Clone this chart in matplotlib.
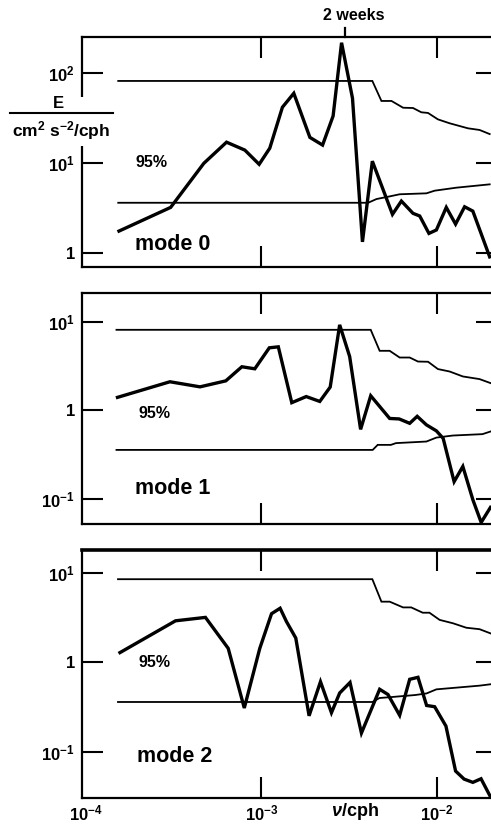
import matplotlib
matplotlib.use("Agg")
import matplotlib.pyplot as plt
from matplotlib.patches import Rectangle
from matplotlib.lines import Line2D
from matplotlib.ticker import FixedLocator, FixedFormatter, NullLocator

plt.rcParams['font.family'] = ['Liberation Sans', 'DejaVu Sans']
plt.rcParams['font.weight'] = 'bold'
plt.rcParams['mathtext.fontset'] = 'custom'
plt.rcParams['mathtext.rm'] = 'Liberation Sans:bold'
plt.rcParams['mathtext.it'] = 'Liberation Sans:italic:bold'
plt.rcParams['mathtext.bf'] = 'Liberation Sans:bold'

# spectra of the three vertical modes (cm^2 s^-2 / cph)
mode0_freq = [1.55e-4, 3.05e-4, 4.71e-4, 6.34e-4, 8.06e-4, 9.72e-4, 1.117e-3, 1.318e-3,
              1.53e-3, 1.889e-3, 2.23e-3, 2.56e-3, 2.86e-3, 3.30e-3, 3.76e-3, 4.28e-3,
              5.57e-3, 6.26e-3, 7.29e-3, 7.96e-3, 8.98e-3, 9.90e-3, 1.127e-2, 1.273e-2,
              1.433e-2, 1.596e-2, 1.99e-2]
mode0_E = [1.74, 3.19, 9.85, 16.9, 13.8, 9.6, 14.5, 41.3, 59, 19.1, 15.7, 33, 215, 52,
           1.32, 10.4, 2.67, 3.75, 2.74, 2.56, 1.64, 1.79, 3.19, 2.08, 3.24, 2.90, 0.90]

mode1_freq = [1.52e-4, 3.02e-4, 4.48e-4, 6.28e-4, 7.75e-4, 9.18e-4, 1.11e-3, 1.249e-3,
              1.49e-3, 1.80e-3, 2.15e-3, 2.465e-3, 2.79e-3, 3.18e-3, 3.67e-3, 4.19e-3,
              5.37e-3, 6.08e-3, 6.98e-3, 7.70e-3, 8.69e-3, 9.90e-3, 1.082e-2, 1.249e-2,
              1.40e-2, 1.597e-2, 1.78e-2, 2.01e-2]
mode1_E = [1.40, 2.10, 1.84, 2.15, 3.10, 2.94, 5.07, 5.2, 1.22, 1.43, 1.26, 1.83, 9.2,
           4.04, 0.61, 1.46, 0.81, 0.80, 0.714, 0.856, 0.686, 0.587, 0.483, 0.157, 0.233,
           0.098, 0.0545, 0.0805]

mode2_freq = [1.57e-4, 3.25e-4, 4.81e-4, 6.48e-4, 8.0e-4, 9.80e-4, 1.143e-3, 1.279e-3,
              1.39e-3, 1.57e-3, 1.869e-3, 2.17e-3, 2.505e-3, 2.79e-3, 3.195e-3, 3.71e-3,
              4.71e-3, 5.25e-3, 6.12e-3, 6.98e-3, 7.78e-3, 8.71e-3, 9.68e-3, 1.122e-2,
              1.273e-2, 1.423e-2, 1.596e-2, 1.777e-2, 2.01e-2]
mode2_E = [1.29, 2.93, 3.20, 1.44, 0.309, 1.44, 3.52, 4.05, 2.87, 1.88, 0.2527, 0.609,
           0.2737, 0.455, 0.597, 0.162, 0.501, 0.438, 0.256, 0.648, 0.682, 0.33, 0.3195,
           0.194, 0.0608, 0.0494, 0.0454, 0.0498, 0.0313]

# 95% confidence limits
band0_freq_hi = [1.535e-4, 4.28e-3, 4.82e-3, 5.50e-3, 6.40e-3, 7.29e-3, 8.13e-3, 8.87e-3,
                 1.01e-2, 1.178e-2, 1.497e-2, 1.743e-2, 1.99e-2]
band0_hi = [80.9, 80.9, 48.5, 48.5, 40.8, 40.5, 36.3, 35.7, 30.3, 27.4, 24.1, 23.1, 20.8]
band0_freq_lo = [1.535e-4, 4.05e-3, 4.52e-3, 5.26e-3, 6.12e-3, 8.69e-3, 9.68e-3, 1.285e-2, 1.99e-2]
band0_lo = [3.59, 3.59, 3.95, 4.19, 4.46, 4.57, 4.89, 5.28, 5.75]

band1_freq_hi = [1.50e-4, 4.19e-3, 4.71e-3, 5.37e-3, 6.12e-3, 6.98e-3, 7.78e-3, 8.88e-3,
                 1.01e-2, 1.178e-2, 1.40e-2, 1.743e-2, 2.01e-2]
band1_hi = [8.09, 8.09, 4.69, 4.69, 3.94, 3.94, 3.55, 3.53, 2.92, 2.74, 2.41, 2.25, 2.03]
band1_freq_lo = [1.50e-4, 4.30e-3, 4.59e-3, 5.46e-3, 5.83e-3, 8.69e-3, 9.9e-3, 1.228e-2, 1.81e-2, 2.01e-2]
band1_lo = [0.358, 0.358, 0.408, 0.408, 0.427, 0.445, 0.493, 0.52, 0.539, 0.577]

band2_freq_hi = [1.53e-4, 4.28e-3, 4.82e-3, 5.37e-3, 6.40e-3, 7.12e-3, 8.28e-3, 9.04e-3,
                 1.033e-2, 1.23e-2, 1.466e-2, 1.743e-2, 2.01e-2]
band2_hi = [8.57, 8.57, 4.80, 4.80, 4.14, 4.14, 3.61, 3.61, 3.0, 2.75, 2.45, 2.36, 2.12]
band2_freq_lo = [1.53e-4, 4.29e-3, 4.7e-3, 5.5e-3, 7.5e-3, 8.7e-3, 9.9e-3, 1.74e-2, 2.01e-2]
band2_lo = [0.361, 0.361, 0.40, 0.41, 0.432, 0.45, 0.50, 0.55, 0.57]

x_ticks = [1e-4, 1e-3, 1e-2]
x_tick_labels = [r'$10^{-4}$', r'$10^{-3}$', r'$10^{-2}$']
y_ticks_top = [1, 10, 100]
y_labels_top = ['1', r'$10^{1}$', r'$10^{2}$']
y_ticks_low = [0.1, 1, 10]
y_labels_low = [r'$10^{-1}$', '1', r'$10^{1}$']
two_weeks = 1 / (14 * 24)

W, H = 491, 826
fig = plt.figure(figsize=(W / 100, H / 100), dpi=100)


def px_box(left, right, top, bottom):
    return [left / W, 1 - bottom / H, (right - left) / W, (bottom - top) / H]


panels = [
    (px_box(82, 497, 37.3, 266.7), (0.70, 247), mode0_freq, mode0_E,
     band0_freq_hi, band0_hi, band0_freq_lo, band0_lo, y_ticks_top, y_labels_top,
     'mode 0', (0.128, 0.456), (0.128, 0.095)),
    (px_box(82, 497, 292.7, 524.3), (0.0519, 21.2), mode1_freq, mode1_E,
     band1_freq_hi, band1_hi, band1_freq_lo, band1_lo, y_ticks_low, y_labels_low,
     'mode 1', (0.135, 0.479), (0.128, 0.155)),
    (px_box(82, 497, 550, 798.3), (0.0301, 18.2), mode2_freq, mode2_E,
     band2_freq_hi, band2_hi, band2_freq_lo, band2_lo, y_ticks_low, y_labels_low,
     'mode 2', (0.135, 0.546), (0.1325, 0.170)),
]

axes = []
for i, (box, ylim, f, E, fh, eh, fl, el, yt, yl, name, pos95, posmode) in enumerate(panels):
    ax = fig.add_axes(box)
    ax.set_xscale('log')
    ax.set_yscale('log')
    ax.plot(fh, eh, color='k', lw=1.3, solid_joinstyle='miter')
    ax.plot(fl, el, color='k', lw=1.3, solid_joinstyle='miter')
    ax.plot(f, E, color='k', lw=2.4, solid_joinstyle='miter')
    ax.set_xlim(9.55e-5, 2.19e-2)
    ax.set_ylim(*ylim)

    ax.xaxis.set_major_locator(FixedLocator(x_ticks))
    ax.xaxis.set_major_formatter(FixedFormatter(x_tick_labels))
    ax.xaxis.set_minor_locator(NullLocator())
    ax.yaxis.set_major_locator(FixedLocator(yt))
    ax.yaxis.set_major_formatter(FixedFormatter(yl))
    ax.yaxis.set_minor_locator(NullLocator())
    ax.tick_params(which='both', direction='in', length=15, width=1.5,
                   top=True, right=True, labelsize=12)
    ax.tick_params(axis='y', pad=5)
    ax.tick_params(axis='x', pad=4, labelbottom=(i == 2))
    # the 10^-4 tick sits on the left spine; keep only its label
    first = ax.xaxis.get_major_ticks()[0]
    first.tick1line.set_visible(False)
    first.tick2line.set_visible(False)
    for sp in ax.spines.values():
        sp.set_linewidth(1.6)

    ax.text(*pos95, '95%', transform=ax.transAxes, fontsize=11.5,
            ha='left', va='center')
    ax.text(*posmode, name, transform=ax.transAxes, fontsize=15.5,
            ha='left', va='center')
    axes.append(ax)

axes[2].spines['top'].set_linewidth(2.6)

# two-week period marker above the top panel
axes[0].plot([two_weeks, two_weeks], [1.0, 1.042], color='k', lw=1.6,
             transform=axes[0].get_xaxis_transform(), clip_on=False)
fig.text(354 / W, 1 - 15.7 / H, '2 weeks', fontsize=11.5, ha='center', va='center')

# frequency label next to the tick labels
fig.text(355 / W, 1 - 812 / H, r'$\nu$/cph', fontsize=13, ha='center', va='center')

# y-axis label written as a fraction, blanking the spine behind it
fig.patches.append(Rectangle((4 / W, 1 - 146 / H), 112 / W, 49 / H, facecolor='white',
                             edgecolor='none', transform=fig.transFigure, zorder=5))
fig.lines.append(Line2D([10 / W, 112.7 / W], [1 - 112.7 / H, 1 - 112.7 / H], color='k',
                        lw=1.5, transform=fig.transFigure, zorder=6))
fig.text(58.3 / W, 1 - 103.3 / H, 'E', fontsize=12, ha='center', va='center', zorder=6)
fig.text(61 / W, 1 - 130.7 / H, r'cm$^{2}$ s$^{-2}$/cph', fontsize=12.5, ha='center',
         va='center', zorder=6)

fig.savefig('out.png', dpi=100)
